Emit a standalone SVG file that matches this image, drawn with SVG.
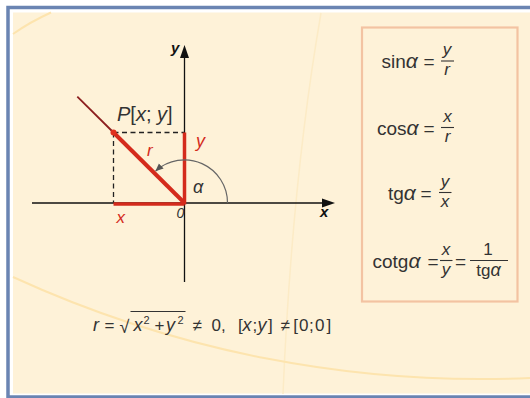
<svg xmlns="http://www.w3.org/2000/svg" width="530" height="398" viewBox="0 0 530 398">
<defs>
<style>
.t{font-family:"Liberation Sans",Arial,sans-serif;fill:#333}
.i{font-style:italic}
.red{fill:#d42b1c}
.ax{stroke:#111;stroke-width:1.3;fill:none}
.dash{stroke:#222;stroke-width:1.3;stroke-dasharray:5 3.5;fill:none}
.rl{stroke:#d42b1c;fill:none}
.bar{stroke:#333;stroke-width:1.1}
.bg{fill:none;stroke:#fde4ae;stroke-width:2}
.m{font-size:19px}
.fr{font-size:17px}
.al{font-size:21px;font-style:italic}
</style>
<marker id="arc-arrow" markerUnits="userSpaceOnUse" markerWidth="10" markerHeight="8" refX="7.5" refY="3.5" orient="auto">
<path d="M0,0 L8,3.5 L0,7 z" fill="#555"/>
</marker>
</defs>

<g id="frame">
<rect x="0" y="0" width="530" height="398" fill="#ffffff"/>
<rect x="13" y="12.5" width="530" height="381" fill="#fef2d8"/>
<path class="bg" d="M13,34 Q30,22 51,12.5"/>
<path d="M321,13 Q292,180 283,394" fill="none" stroke="#fcebc6" stroke-width="1.5"/>
<path class="bg" d="M13,277 A1120,1120 0 0 0 530,378"/>
<rect x="8" y="7.5" width="600" height="389.5" fill="none" stroke="#6a84b2" stroke-width="3.5"/>
</g>

<g id="connectors">
<line class="ax" x1="32" y1="203" x2="324" y2="203"/>
<polygon points="335,203 322,198.5 322,207.5" fill="#111"/>
<line class="ax" x1="184.5" y1="282" x2="184.5" y2="56"/>
<polygon points="184.5,45 180,58 189,58" fill="#111"/>
<line class="dash" x1="113.5" y1="132.5" x2="184.5" y2="132.5"/>
<line class="dash" x1="113.5" y1="132.5" x2="113.5" y2="203"/>
<line x1="113.5" y1="132.5" x2="77.3" y2="96.7" stroke="#8c1f1f" stroke-width="1.8"/>
<line class="rl" x1="184.5" y1="203" x2="113.5" y2="132.5" stroke-width="4"/>
<line class="rl" x1="184.5" y1="204.5" x2="184.5" y2="132.5" stroke-width="3.5"/>
<line class="rl" x1="113.5" y1="204" x2="184.5" y2="204" stroke-width="3.5"/>
<circle cx="113.5" cy="132.5" r="3" fill="#e0301e"/>
<path d="M227.5,203 A43,43 0 0 0 155.7,171" fill="none" stroke="#666" stroke-width="1.2" marker-end="url(#arc-arrow)"/>
</g>

<g id="labels">
<text class="t i" x="171" y="53" font-size="15" font-weight="bold" style="fill:#111">y</text>
<text class="t i" x="320" y="217" font-size="15" font-weight="bold" style="fill:#111">x</text>
<text class="t i" x="176.5" y="218" font-size="14">0</text>
<text class="t" x="117" y="121" font-size="20"><tspan class="i">P</tspan>[<tspan class="i">x</tspan>; <tspan class="i">y</tspan>]</text>
<text class="t i red" x="196" y="147" font-size="18">y</text>
<text class="t i red" x="147" y="156" font-size="17">r</text>
<text class="t i red" x="116.5" y="223" font-size="17">x</text>
<text class="t i" x="193" y="193" font-size="18">α</text>
</g>

<g id="condition">
<text class="t i" x="93" y="331" font-size="18">r</text>
<text class="t" x="104.5" y="331" font-size="17">=</text>
<text class="t" x="119.5" y="332.5" font-size="18">√</text>
<line x1="130.5" y1="311.5" x2="185.5" y2="311.5" stroke="#333" stroke-width="1.1"/>
<text class="t i" x="133.5" y="331" font-size="18">x</text>
<text class="t" x="143.5" y="323.5" font-size="11">2</text>
<text class="t" x="154.5" y="331" font-size="17">+</text>
<text class="t i" x="166" y="331" font-size="18">y</text>
<text class="t" x="177.5" y="323.5" font-size="11">2</text>
<text class="t" x="192.5" y="331" font-size="17">≠</text>
<text class="t" x="211.5" y="331" font-size="17">0,</text>
<text class="t" y="331" font-size="17"><tspan x="238">[</tspan><tspan class="i" x="242.5" font-size="18">x</tspan><tspan x="252.5">;</tspan><tspan class="i" x="257.5" font-size="18">y</tspan><tspan x="268">]</tspan></text>
<text class="t" x="280.5" y="331" font-size="17">≠</text>
<text class="t" y="331" font-size="17"><tspan x="293.3">[</tspan><tspan x="299">0</tspan><tspan x="309">;</tspan><tspan x="315">0</tspan><tspan x="326.5">]</tspan></text>
</g>

<g id="formulas">
<rect x="362" y="27.5" width="155.5" height="274" fill="none" stroke="#f3c3a2" stroke-width="2.2"/>
<g id="f-sin">
<text class="t m" x="381.5" y="68">sin<tspan class="al">α</tspan></text>
<text class="t m" x="423.5" y="68">=</text>
<text class="t i fr" x="447" y="55" text-anchor="middle">y</text>
<line class="bar" x1="441" y1="61" x2="454" y2="61"/>
<text class="t i fr" x="447" y="75" text-anchor="middle">r</text>
</g>
<g id="f-cos">
<text class="t m" x="377" y="134.5">cos<tspan class="al">α</tspan></text>
<text class="t m" x="423.5" y="134.5">=</text>
<text class="t i fr" x="447.5" y="122" text-anchor="middle">x</text>
<line class="bar" x1="441" y1="127.5" x2="454" y2="127.5"/>
<text class="t i fr" x="447.5" y="141.5" text-anchor="middle">r</text>
</g>
<g id="f-tg">
<text class="t m" x="388" y="199.5">tg<tspan class="al">α</tspan></text>
<text class="t m" x="420.5" y="199.5">=</text>
<text class="t i fr" x="445" y="187" text-anchor="middle">y</text>
<line class="bar" x1="439" y1="192.5" x2="451.5" y2="192.5"/>
<text class="t i fr" x="445" y="206.5" text-anchor="middle">x</text>
</g>
<g id="f-cotg">
<text class="t m" x="372.5" y="267.5">cotg<tspan class="al">α</tspan></text>
<text class="t m" x="427.5" y="267.5">=</text>
<text class="t i fr" x="446" y="255" text-anchor="middle">x</text>
<line class="bar" x1="440" y1="260.5" x2="452.5" y2="260.5"/>
<text class="t i fr" x="446" y="274.5" text-anchor="middle">y</text>
<text class="t m" x="455" y="267.5">=</text>
<text class="t fr" x="488" y="255" text-anchor="middle">1</text>
<line class="bar" x1="470" y1="260.5" x2="508" y2="260.5"/>
<text class="t fr" x="488.5" y="275.5" text-anchor="middle">tg<tspan class="i" font-size="18">α</tspan></text>
</g>
</g>
</svg>
